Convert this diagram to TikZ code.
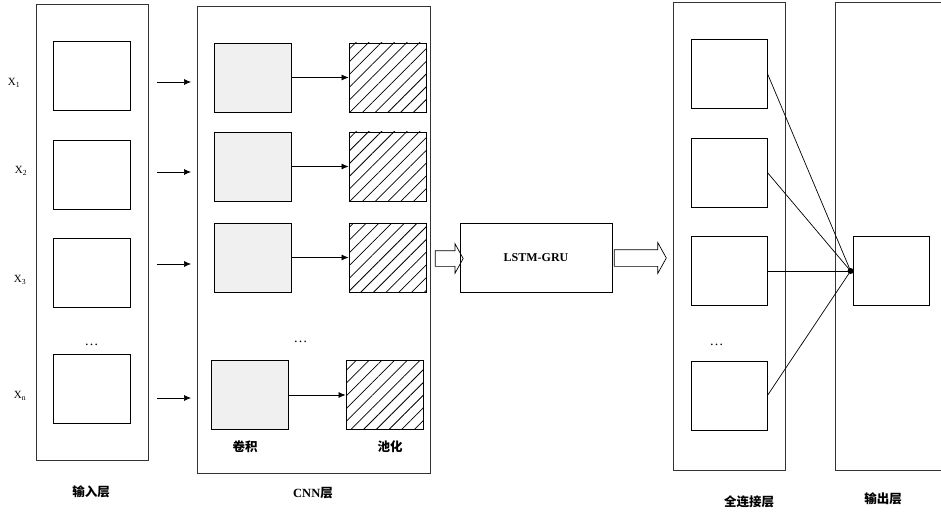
\documentclass[tikz,border=0pt]{standalone}
\usepackage{fontspec}
\setmainfont{Liberation Serif}
\newfontfamily\cjk{Noto Sans CJK SC}
\usetikzlibrary{arrows.meta,patterns.meta,shapes.arrows,positioning}

\newcommand{\xsub}[1]{X\textsubscript{#1}}

\begin{document}
\begin{tikzpicture}[x=1pt,y=-1pt,
every node/.style={inner sep=0pt},
layer/.style={draw=black!80,line width=0.7pt,rectangle,minimum width=112pt},
cell/.style={draw,line width=0.8pt,minimum width=77pt,minimum height=69pt},
conv/.style={cell,fill=black!6},
pool/.style={cell,pattern={Lines[angle=45,distance=9pt,line width=0.75pt]}},
arr/.style={line width=0.7pt,-{Latex[length=7pt,width=6pt]}},
fat/.style={single arrow,draw,line width=0.7pt,single arrow tip angle=122,
  single arrow head extend=7pt},
zh/.style={font=\cjk\bfseries\fontsize{12.5}{14}\selectfont},
xl/.style={font=\fontsize{11}{13}\selectfont},
dd/.style={font=\fontsize{14}{14}\selectfont}]
\useasboundingbox (0,0) rectangle (941,513);

% input layer
\node[layer,minimum height=456pt] (IN) at (92,232) {};
\node[cell] (I1) at (91.5,75.5) {};
\node[cell] (I2) at (91.5,174.5) {};
\node[cell] (I3) at (91.5,273) {};
\node[cell] (I4) at (91.5,388.5) {};
\node[dd] (Id) at (91.5,345) {\dots};
\node[xl] (X1) at (14,83) {\xsub{1}};
\node[xl] (X2) at (21,171) {\xsub{2}};
\node[xl] (X3) at (20,280) {\xsub{3}};
\node[xl] (Xn) at (20,396) {\xsub{n}};
\node[zh] (Lin) at (91,492) {输入层};

\draw[arr] (157,82) -- ++(34,0);
\draw[arr] (157,172) -- ++(34,0);
\draw[arr] (157,264) -- ++(34,0);
\draw[arr] (157,398) -- ++(34,0);

% CNN layer
\node[layer,minimum width=233pt,minimum height=467pt] (CNN) at (313.5,239.5) {};
\node[conv] (C1) at (252.5,77.5) {};
\node[conv] (C2) at (252.5,166.5) {};
\node[conv] (C3) at (252.5,257.5) {};
\node[conv] (C4) at (250,395) {};
\node[pool] (P1) at (387.5,77.5) {};
\node[pool] (P2) at (387.5,166.5) {};
\node[pool] (P3) at (387.5,257.5) {};
\node[pool] (P4) at (384.5,395) {};
\node[dd] (Cd) at (300.5,342) {\dots};
\draw[arr] (C1) -- (P1);
\draw[arr] (C2) -- (P2);
\draw[arr] (C3) -- (P3);
\draw[arr] (C4) -- (P4);
\node[zh] (Lc) at (245,447) {卷积};
\node[zh] (Lp) at (390,447) {池化};
\node[zh] (Lcnn) at (313,493) {{\rmfamily\bfseries CNN}层};

% LSTM-GRU block
\node[draw,line width=0.8pt,minimum width=152pt,minimum height=69pt,
  font=\bfseries\fontsize{12}{14}\selectfont] (RNN) at (536,257.5) {LSTM-GRU};
\node[fat,minimum height=28pt] (A1) at (447,258.5) {\rule{0pt}{15pt}};
\node[fat,minimum height=52pt] (A2) at (638,258) {\rule{0pt}{16pt}};

% fully connected layer
\node[layer,minimum height=468pt] (FC) at (729,236) {};
\node[cell,minimum width=76pt] (F1) at (729,73.5) {};
\node[cell,minimum width=76pt] (F2) at (729,172.5) {};
\node[cell,minimum width=76pt] (F3) at (729,271) {};
\node[cell,minimum width=76pt] (F4) at (729,395.5) {};
\node[dd] (Fd) at (716.5,345) {\dots};
\node[zh] (Lfc) at (749,502) {全连接层};

% output layer
\node[layer,minimum height=468pt] (OUT) at (891,236) {};
\node[cell,minimum width=76pt] (O1) at (891,271) {};
\node[zh] (Lout) at (883,499) {输出层};

\coordinate (hub) at ([xshift=-2pt]O1.west);
\foreach \i in {1,...,4}
  \draw[line width=0.7pt] (F\i.east) -- (hub);
\fill (hub) circle (3pt);
\end{tikzpicture}
\end{document}
